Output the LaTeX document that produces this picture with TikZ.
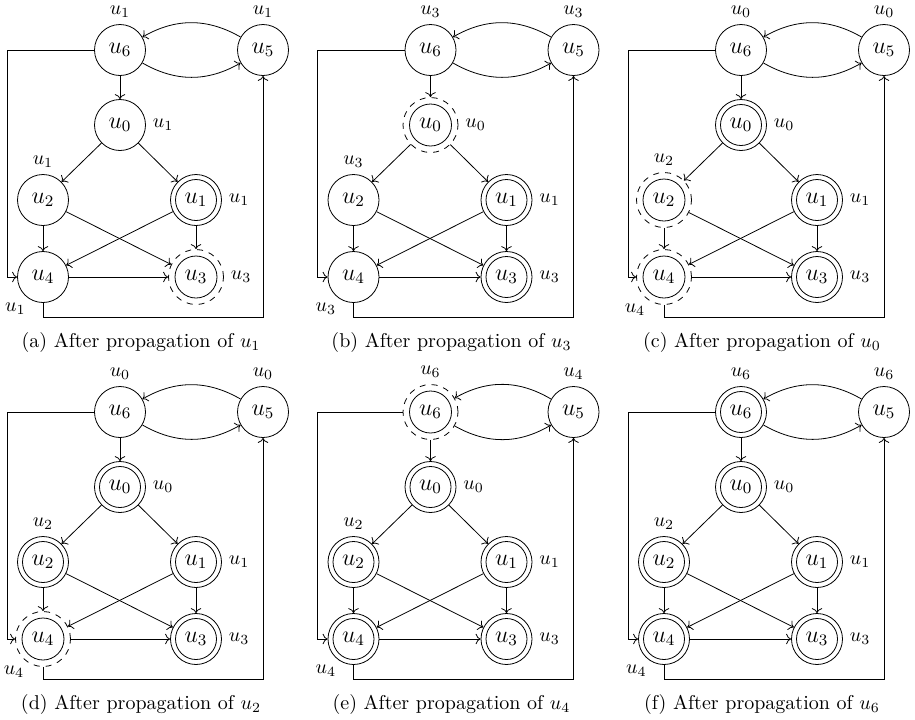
\documentclass[tikz,border=0pt]{standalone}
\usepackage{amsmath,amssymb}
\usepackage{tikz}
\usetikzlibrary{arrows.meta}

% one panel: #1 shift, #2 letter, #3 propagated vertex, #4 vertex/state/label list
\newcommand{\propstep}[4]{%
  \begin{scope}[shift={(#1)}]
    \foreach \n/\st/\lab in {#4}{\node[\st,p\n,l\n=\lab] (#2\n) {$u_{\n}$};}
    \foreach \a/\b in {6/0,0/2,0/1,2/4,2/3,1/4,1/3,4/3}{\draw[lnk] (#2\a) -- (#2\b);}
    \draw[lnk] (#26) to[bend right=30] (#25);
    \draw[lnk] (#25) to[bend right=30] (#26);
    \coordinate (#2c) at (7,317);
    \draw[lnk] (#26) -- (#26 -| #2c) -- (#24 -| #2c) -- (#24);
    \draw[lnk] (#24) -- (#24 |- #2c) -- (#25 |- #2c) -- (#25);
    \node (#2cap) at (141,342) {(#2) After propagation of $u_{#3}$};
  \end{scope}}

\begin{document}
\begin{tikzpicture}[x=0.5pt,y=-0.5pt]
    \tikzset{todo/.style={circle,draw,minimum size=25.5pt,inner sep=0pt,font=\large},
      done/.style={todo,path picture={\draw (path picture bounding box.center) circle (10.25pt);}},
      curr/.style={todo,dashed,minimum size=27.5pt,
        path picture={\draw[solid] (path picture bounding box.center) circle (10.5pt);}},
      lnk/.style={-{To}},
      every label/.style={font=\normalsize},
      p6/.style={at={(120,50)}}, p5/.style={at={(263,50)}}, p0/.style={at={(120,125)}},
      p2/.style={at={(43,200)}}, p1/.style={at={(196,200)}},
      p4/.style={at={(43,277)}}, p3/.style={at={(196,277)}},
      l6/.style={label=above:$u_{#1}$}, l5/.style={label=above:$u_{#1}$},
      l0/.style={label=right:$u_{#1}$}, l2/.style={label=above:$u_{#1}$},
      l1/.style={label=right:$u_{#1}$}, l3/.style={label=right:$u_{#1}$},
      l4/.style={label={[xshift=4pt]below left:$u_{#1}$}}}
    \useasboundingbox (0,0) rectangle (915,719);
    \propstep{0,0}{a}{1}{6/todo/1,5/todo/1,0/todo/1,2/todo/1,1/done/1,4/todo/1,3/curr/3}
    \propstep{310.5,0}{b}{3}{6/todo/3,5/todo/3,0/curr/0,2/todo/3,1/done/1,4/todo/3,3/done/3}
    \propstep{621,0}{c}{0}{6/todo/0,5/todo/0,0/done/0,2/curr/2,1/done/1,4/curr/4,3/done/3}
    \propstep{0,362}{d}{2}{6/todo/0,5/todo/0,0/done/0,2/done/2,1/done/1,4/curr/4,3/done/3}
    \propstep{310.5,362}{e}{4}{6/curr/6,5/todo/4,0/done/0,2/done/2,1/done/1,4/done/4,3/done/3}
    \propstep{621,362}{f}{6}{6/done/6,5/todo/6,0/done/0,2/done/2,1/done/1,4/done/4,3/done/3}
  \end{tikzpicture}
\end{document}
